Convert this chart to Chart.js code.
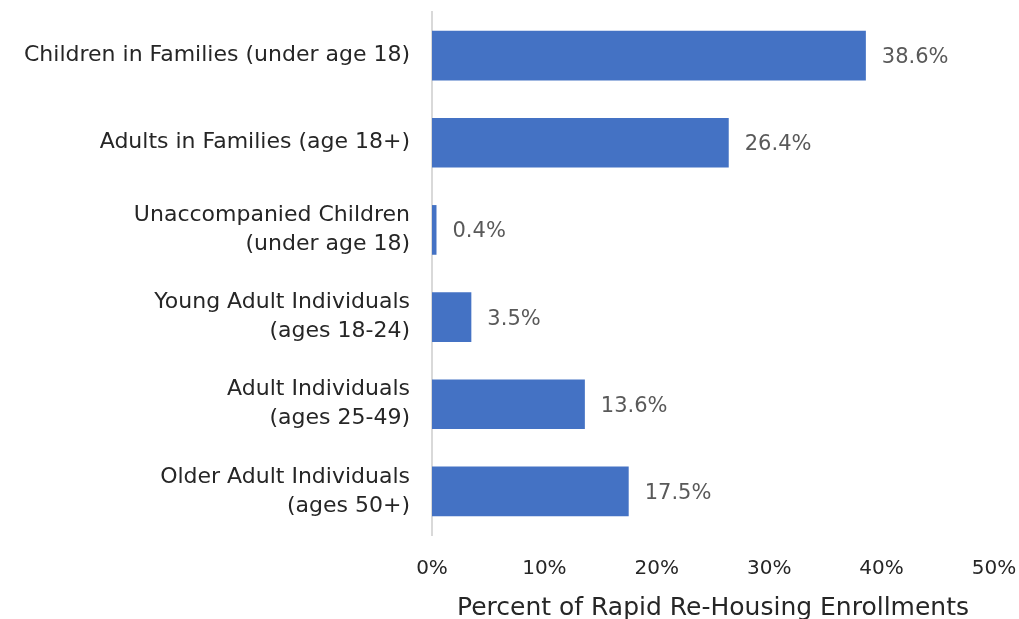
<!DOCTYPE html>
<html>
<head>
<meta charset="utf-8">
<script src="https://cdn.jsdelivr.net/npm/chart.js@4/dist/chart.umd.min.js"></script>
<style>
  html, body { margin: 0; padding: 0; background: #fff; }
  #wrap { width: 1019px; height: 619px; }
</style>
</head>
<body>
<div id="wrap"><canvas id="rrhChart"></canvas></div>
<script>
var categories = [
    "Children in Families (under age 18)",
    "Adults in Families (age 18+)",
    ["Unaccompanied Children", "(under age 18)"],
    ["Young Adult Individuals", "(ages 18-24)"],
    ["Adult Individuals", "(ages 25-49)"],
    ["Older Adult Individuals", "(ages 50+)"]
];
var enrollmentPct = [38.6, 26.4, 0.4, 3.5, 13.6, 17.5];
var xTicks = [0, 10, 20, 30, 40, 50];

var FONT = "'DejaVu Sans', sans-serif";

// value labels to the right of each bar
var barLabels = {
    id: "barLabels",
    afterDatasetsDraw: function (chart) {
        var ctx = chart.ctx;
        var meta = chart.getDatasetMeta(0);
        ctx.save();
        ctx.font = "21px " + FONT;
        ctx.fillStyle = "#595959";
        ctx.textAlign = "left";
        ctx.textBaseline = "middle";
        meta.data.forEach(function (bar, i) {
            ctx.fillText(enrollmentPct[i].toFixed(1) + "%", bar.x + 16, bar.y + 2);
        });
        ctx.restore();
    }
};

document.addEventListener("DOMContentLoaded", function () {
    var ctx = document.getElementById("rrhChart").getContext("2d");
    new Chart(ctx, {
        type: "bar",
        data: {
            labels: categories,
            datasets: [{
                label: "Percent of Rapid Re-Housing Enrollments",
                data: enrollmentPct,
                backgroundColor: "#4472C4",
                borderWidth: 0,
                categoryPercentage: 0.57,
                barPercentage: 1.0
            }]
        },
        options: {
            indexAxis: "y",
            responsive: true,
            maintainAspectRatio: false,
            animation: false,
            layout: { padding: { top: 12, right: 25, bottom: 0, left: 0 } },
            plugins: {
                legend: { display: false },
                tooltip: { enabled: false }
            },
            scales: {
                x: {
                    min: 0,
                    max: 50,
                    afterBuildTicks: function (axis) {
                        axis.ticks = xTicks.map(function (v) { return { value: v }; });
                    },
                    afterFit: function (axis) {
                        axis.height = 84;
                        axis.paddingLeft = 0;
                        axis.paddingRight = 0;
                    },
                    grid: { display: false, drawTicks: false },
                    border: { display: false },
                    ticks: {
                        padding: 22,
                        color: "#262626",
                        font: { family: FONT, size: 20 },
                        callback: function (v) { return v + "%"; }
                    },
                    title: {
                        display: true,
                        text: "Percent of Rapid Re-Housing Enrollments",
                        color: "#262626",
                        font: { family: FONT, size: 25 },
                        padding: { top: 0, bottom: -4 }
                    }
                },
                y: {
                    afterFit: function (axis) {
                        axis.width = 432;
                        axis.paddingTop = 0;
                        axis.paddingBottom = 0;
                    },
                    grid: { display: false, drawTicks: false },
                    border: { display: true, color: "#d9d9d9", width: 2 },
                    ticks: {
                        padding: 22,
                        color: "#262626",
                        font: { family: FONT, size: 22, lineHeight: 1.32 }
                    }
                }
            }
        },
        plugins: [barLabels]
    });
});
</script>
</body>
</html>
